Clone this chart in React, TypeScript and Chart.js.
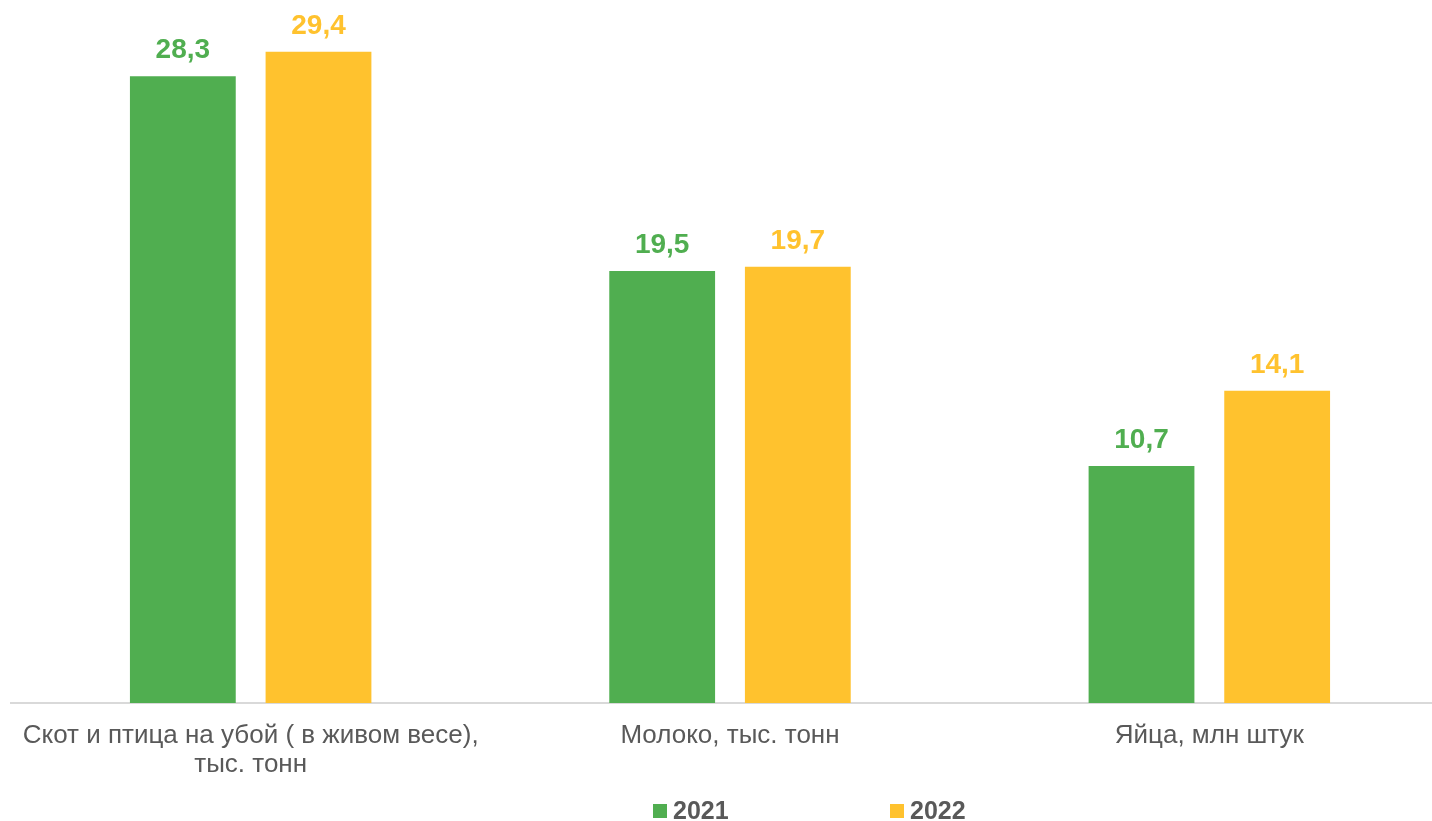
import React, { useEffect, useRef } from "react";
import { Chart, registerables } from "chart.js";

Chart.register(...registerables);

const categories: string[][] = [
  ["Скот и птица на убой ( в живом весе),", "тыс. тонн"],
  ["Молоко, тыс. тонн"],
  ["Яйца, млн штук"],
];
const seriesNames = ["2021", "2022"];
const values2021 = [28.3, 19.5, 10.7];
const values2022 = [29.4, 19.7, 14.1];
const colors = ["#50AE50", "#FFC22E"];

const FONT = "'Liberation Sans', Arial, sans-serif";

const dataLabelPlugin = {
  id: "dataLabels",
  afterDatasetsDraw(chart: any) {
    const ctx = chart.ctx;
    ctx.save();
    ctx.font = `bold 28px ${FONT}`;
    ctx.textAlign = "center";
    ctx.textBaseline = "alphabetic";
    chart.data.datasets.forEach((ds: any, i: number) => {
      const meta = chart.getDatasetMeta(i);
      meta.data.forEach((bar: any, j: number) => {
        ctx.fillStyle = ds.backgroundColor;
        const txt = String(ds.data[j]).replace(".", ",");
        ctx.fillText(txt, bar.x, bar.y - 18);
      });
    });
    ctx.restore();
  },
};

const legendPlugin = {
  id: "customLegend",
  afterDraw(chart: any) {
    const ctx = chart.ctx;
    const area = chart.chartArea;
    ctx.save();
    ctx.font = `bold 25px ${FONT}`;
    ctx.textBaseline = "alphabetic";
    ctx.textAlign = "left";
    const baseY = area.bottom + 116;
    let x = 653;
    chart.data.datasets.forEach((ds: any) => {
      ctx.fillStyle = ds.backgroundColor;
      ctx.fillRect(x, baseY - 15, 14, 14);
      ctx.fillStyle = "#595959";
      ctx.fillText(ds.label, x + 20, baseY);
      x += 237;
    });
    ctx.restore();
  },
};

export default function App() {
  const ref = useRef<HTMLCanvasElement | null>(null);
  useEffect(() => {
    if (!ref.current) return;
    const chart = new Chart(ref.current, {
      type: "bar",
      data: {
        labels: categories,
        datasets: [
          { label: seriesNames[0], data: values2021, backgroundColor: colors[0] },
          { label: seriesNames[1], data: values2022, backgroundColor: colors[1] },
        ],
      },
      options: {
        responsive: false,
        animation: false,
        devicePixelRatio: 1,
        layout: { padding: { top: 38.5, left: 11, right: 0, bottom: 0 } },
        plugins: { legend: { display: false }, tooltip: { enabled: false } },
        datasets: {
          bar: { categoryPercentage: 0.566, barPercentage: 0.78 },
        },
        scales: {
          x: {
            grid: { display: false, drawTicks: false },
            border: { display: true, color: "#D9D9D9", width: 2 },
            ticks: {
              color: "#595959",
              font: { family: FONT, size: 26, lineHeight: 1.1 },
              padding: 19,
              maxRotation: 0,
              minRotation: 0,
              autoSkip: false,
            },
            afterFit(scale: any) {
              scale.height = 118;
            },
          },
          y: {
            display: false,
            min: 0,
            max: 30,
          },
        },
      },
      plugins: [dataLabelPlugin, legendPlugin],
    });
    return () => chart.destroy();
  }, []);
  return (
    <div
      style={{
        position: "fixed",
        left: 0,
        top: 0,
        width: 1432,
        height: 821,
        overflow: "hidden",
        background: "#fff",
      }}
    >
      <canvas ref={ref} width={1449} height={821} style={{ width: 1449, height: 821, display: "block" }} />
    </div>
  );
}
